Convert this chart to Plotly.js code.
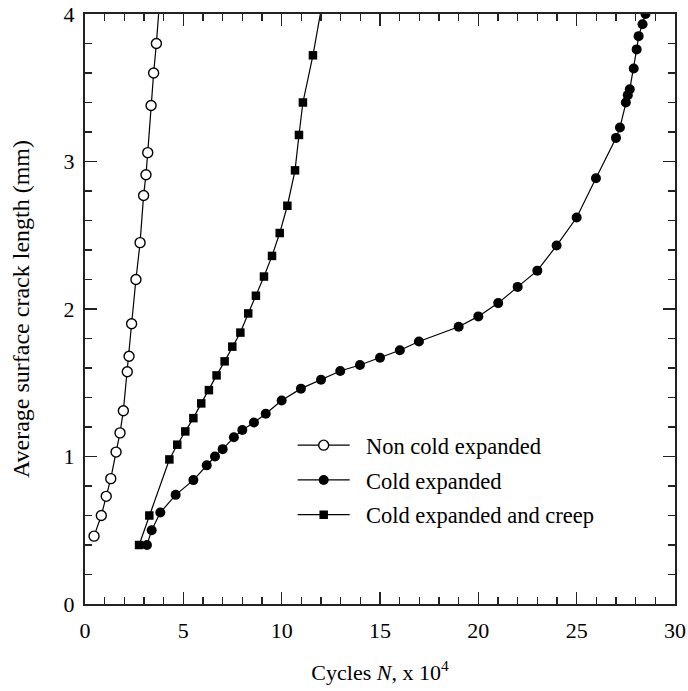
<!DOCTYPE html>
<html>
<head>
<meta charset="utf-8">
<script src="https://cdn.plot.ly/plotly-3.0.1.min.js"></script>
<style>html,body{margin:0;padding:0;background:#fff;}#chart{width:688px;height:691px;}</style>
</head>
<body>
<div id="chart"></div>
<script>
// Non cold expanded
const nonColdX = [0.46, 0.83, 1.08, 1.31, 1.58, 1.78, 1.95, 2.15, 2.24, 2.37, 2.59, 2.80, 2.98, 3.10, 3.19, 3.36, 3.49, 3.63, 3.80];
const nonColdY = [0.46, 0.60, 0.73, 0.85, 1.03, 1.16, 1.31, 1.575, 1.68, 1.90, 2.20, 2.45, 2.77, 2.91, 3.06, 3.38, 3.60, 3.80, 4.10];
// Cold expanded
const coldX = [3.15, 3.39, 3.83, 4.61, 5.51, 6.19, 6.61, 7.00, 7.57, 8.00, 8.59, 9.19, 10.0, 10.98, 12.0, 12.98, 13.98, 15.0, 16.01, 16.98, 19.0, 20.0, 21.01, 22.0, 23.0, 23.98, 25.0, 25.98, 27.0, 27.2, 27.5, 27.6, 27.7, 27.9, 28.05, 28.15, 28.35, 28.5];
const coldY = [0.40, 0.50, 0.62, 0.74, 0.84, 0.94, 1.00, 1.05, 1.13, 1.18, 1.23, 1.29, 1.38, 1.46, 1.52, 1.58, 1.62, 1.67, 1.72, 1.78, 1.88, 1.95, 2.04, 2.15, 2.26, 2.43, 2.62, 2.886, 3.16, 3.23, 3.40, 3.45, 3.49, 3.63, 3.76, 3.85, 3.93, 4.00];
// Cold expanded and creep
const creepX = [2.75, 3.27, 4.29, 4.69, 5.10, 5.51, 5.91, 6.30, 6.69, 7.10, 7.49, 7.90, 8.30, 8.69, 9.10, 9.51, 9.90, 10.29, 10.68, 10.88, 11.08, 11.59, 12.10];
const creepY = [0.40, 0.60, 0.98, 1.08, 1.17, 1.26, 1.36, 1.45, 1.55, 1.645, 1.745, 1.84, 1.97, 2.09, 2.22, 2.36, 2.515, 2.70, 2.94, 3.18, 3.40, 3.72, 4.10];

const seriesNames = ["Non cold expanded", "Cold expanded", "Cold expanded and creep"];
const xTickVals = [0, 5, 10, 15, 20, 25, 30];
const yTickVals = [0, 1, 2, 3, 4];

const FONT = "Liberation Serif, Times New Roman, serif";
const lineStyle = {color: "#000", width: 1.2};
const PAD = "\u00a0\u00a0";

const traces = [
  {x: nonColdX, y: nonColdY, name: PAD + seriesNames[0], legendgroup: "a", type: "scatter", mode: "lines+markers",
   line: lineStyle, marker: {symbol: "circle", size: 10, color: "#fff", line: {color: "#000", width: 1.4}}},
  {x: coldX, y: coldY, name: PAD + seriesNames[1], legendgroup: "b", type: "scatter", mode: "lines+markers",
   line: lineStyle, marker: {symbol: "circle", size: 10, color: "#000"}},
  {x: creepX, y: creepY, name: PAD + seriesNames[2], legendgroup: "c", type: "scatter", mode: "lines+markers",
   line: lineStyle, marker: {symbol: "square", size: 8.5, color: "#000"}}
];

const axisCommon = {
  showline: true, linecolor: "#222", linewidth: 2, mirror: "ticks",
  ticks: "inside", ticklen: 12, tickwidth: 1.5, tickcolor: "#222",
  showgrid: false, zeroline: false, automargin: false,
  tickfont: {family: FONT, size: 22, color: "#000"}
};

const layout = {
  width: 688, height: 691,
  margin: {l: 85, r: 13, t: 14, b: 87},
  paper_bgcolor: "#fff", plot_bgcolor: "#fff",
  font: {family: FONT, color: "#000"},
  showlegend: true,
  legend: {x: 0.352, y: 0.305, xanchor: "left", yanchor: "top", bgcolor: "rgba(0,0,0,0)",
           itemwidth: 52, traceorder: "grouped", tracegroupgap: 2.5,
           font: {family: FONT, size: 22.5, color: "#000"}},
  xaxis: Object.assign({}, axisCommon, {
    range: [0, 30], tickvals: xTickVals, ticktext: xTickVals.map(String),
    ticklabelstandoff: 6,
    minor: {dtick: 1, ticks: "inside", ticklen: 7, tickwidth: 1.5, tickcolor: "#222", showgrid: false},
    title: {text: "Cycles <i>N</i>, x 10<sup>4</sup>", font: {family: FONT, size: 22, color: "#000"}, standoff: 22}
  }),
  yaxis: Object.assign({}, axisCommon, {
    range: [0, 4], tickvals: yTickVals, ticktext: yTickVals.map(String),
    ticklabelstandoff: 4,
    minor: {dtick: 0.2, ticks: "inside", ticklen: 7, tickwidth: 1.5, tickcolor: "#222", showgrid: false},
    title: {text: "Average surface crack length (mm)", font: {family: FONT, size: 24, color: "#000"}, standoff: 27}
  })
};

Plotly.newPlot("chart", traces, layout, {displayModeBar: false, staticPlot: true});
</script>
</body>
</html>
